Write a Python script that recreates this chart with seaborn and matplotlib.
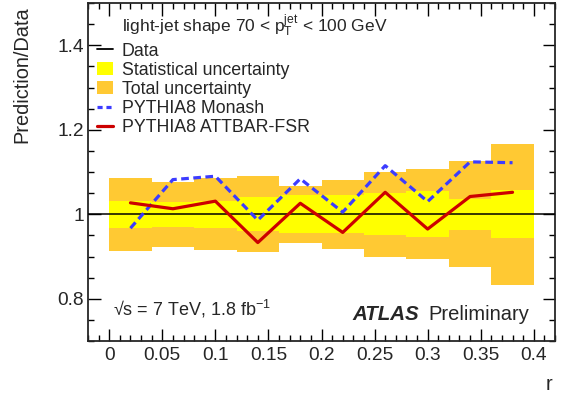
import numpy as np
import pandas as pd
import matplotlib
matplotlib.use("Agg")
import matplotlib.pyplot as plt
import seaborn as sns
from matplotlib.lines import Line2D
from matplotlib.patches import Patch

# ---- data ----
r_centers = [0.02, 0.06, 0.10, 0.14, 0.18, 0.22, 0.26, 0.30, 0.34, 0.38]
bin_width = 0.04
stat_unc = [0.032, 0.030, 0.032, 0.040, 0.045, 0.045, 0.050, 0.054, 0.037, 0.057]
total_unc = [0.086, 0.077, 0.085, 0.090, 0.068, 0.082, 0.100, 0.106, 0.126, 0.167]
monash = [0.967, 1.082, 1.090, 0.986, 1.084, 1.005, 1.115, 1.030, 1.124, 1.122]
attbar = [1.027, 1.013, 1.031, 0.933, 1.026, 0.957, 1.052, 0.965, 1.042, 1.052]

sns.set_style("ticks")
plt.rcParams["font.family"] = ["Liberation Sans", "DejaVu Sans"]
plt.rcParams["mathtext.fontset"] = "custom"
plt.rcParams["mathtext.rm"] = "Liberation Sans"
plt.rcParams["mathtext.it"] = "Liberation Sans:italic"
plt.rcParams["mathtext.bf"] = "Liberation Sans:bold"

ORANGE = "#FFC933"
YELLOW = "#FFFF00"
RED = "#CC0000"
BLUE = "#3C3CFF"

fig = plt.figure(figsize=(5.70, 4.03), dpi=100)
ax = fig.add_axes([88/570, 1-341/403, (555-88)/570, (341-3)/403])

tot = np.array(total_unc)
st = np.array(stat_unc)
ax.bar(r_centers, 2*tot, bottom=1-tot, width=bin_width, color=ORANGE, linewidth=0, zorder=1)
ax.bar(r_centers, 2*st, bottom=1-st, width=bin_width, color=YELLOW, linewidth=0, zorder=2)
ax.axhline(1.0, color="black", lw=1.1, zorder=3)

df = pd.DataFrame({"r": r_centers * 2,
                   "ratio": monash + attbar,
                   "model": ["PYTHIA8 Monash"]*len(r_centers) + ["PYTHIA8 ATTBAR-FSR"]*len(r_centers)})
sns.lineplot(data=df[df.model == "PYTHIA8 Monash"], x="r", y="ratio", ax=ax,
             color=BLUE, lw=2.3, linestyle=(0, (2.4, 1.4)), legend=False, zorder=4)
sns.lineplot(data=df[df.model == "PYTHIA8 ATTBAR-FSR"], x="r", y="ratio", ax=ax,
             color=RED, lw=2.3, legend=False, zorder=5)

ax.set_xlim(-0.02, 0.42)
ax.set_ylim(0.7, 1.5)
ax.set_xticks([0, 0.05, 0.1, 0.15, 0.2, 0.25, 0.3, 0.35, 0.4])
ax.set_xticklabels(["0", "0.05", "0.1", "0.15", "0.2", "0.25", "0.3", "0.35", "0.4"])
ax.set_xticks(np.arange(-0.02, 0.4201, 0.01), minor=True)
ax.set_yticks([0.8, 1.0, 1.2, 1.4])
ax.set_yticklabels(["0.8", "1", "1.2", "1.4"])
ax.set_yticks(np.arange(0.7, 1.501, 0.05), minor=True)
ax.tick_params(which="both", direction="in", top=True, right=True, labelsize=13.8, width=1.0, color="black")
ax.tick_params(which="major", length=9)
ax.tick_params(which="minor", length=4.5)
ax.tick_params(axis="x", pad=4.5)
ax.tick_params(axis="y", pad=3)
for s in ax.spines.values():
    s.set_linewidth(1.3)

ax.set_xlabel("r", fontsize=14.4, loc="right")
ax.xaxis.set_label_coords(0.994, -0.1)
ax.set_ylabel("Prediction/Data", fontsize=14.4, loc="top")
ax.yaxis.set_label_coords(-0.122, 0.99)

ax.text(122/570, 1-32/403, r"light-jet shape 70 < $\mathrm{p}_{\mathrm{T}}^{\mathrm{jet}}$ < 100 GeV",
        transform=fig.transFigure, fontsize=12.5, va="baseline", ha="left")

handles = [Line2D([], [], color="black", lw=1.3),
           Patch(facecolor=YELLOW, edgecolor="none"),
           Patch(facecolor=ORANGE, edgecolor="none"),
           Line2D([], [], color=BLUE, lw=2.3, linestyle=(0, (1.6, 1.2))),
           Line2D([], [], color=RED, lw=2.3)]
labels = ["Data", "Statistical uncertainty", "Total uncertainty", "PYTHIA8 Monash", "PYTHIA8 ATTBAR-FSR"]
leg = ax.legend(handles, labels, loc="upper left", bbox_to_anchor=(97/570, 1-42.5/403),
                bbox_transform=fig.transFigure, frameon=False, fontsize=12.8,
                handlelength=0.9, handleheight=0.75, handletextpad=0.5, labelspacing=0.12,
                borderpad=0.0, borderaxespad=0.0)

ax.text(113/570, 1-316/403, "√s = 7 TeV, 1.8 fb$^{-1}$",
        transform=fig.transFigure, fontsize=13, va="baseline", ha="left")
ax.text(352/570, 1-320/403, "ATLAS", transform=fig.transFigure, fontsize=14.8,
        fontweight="bold", fontstyle="italic", va="baseline", ha="left")
ax.text(428/570, 1-320/403, "Preliminary", transform=fig.transFigure, fontsize=14.5,
        va="baseline", ha="left")

fig.savefig("out.png", dpi=100)
